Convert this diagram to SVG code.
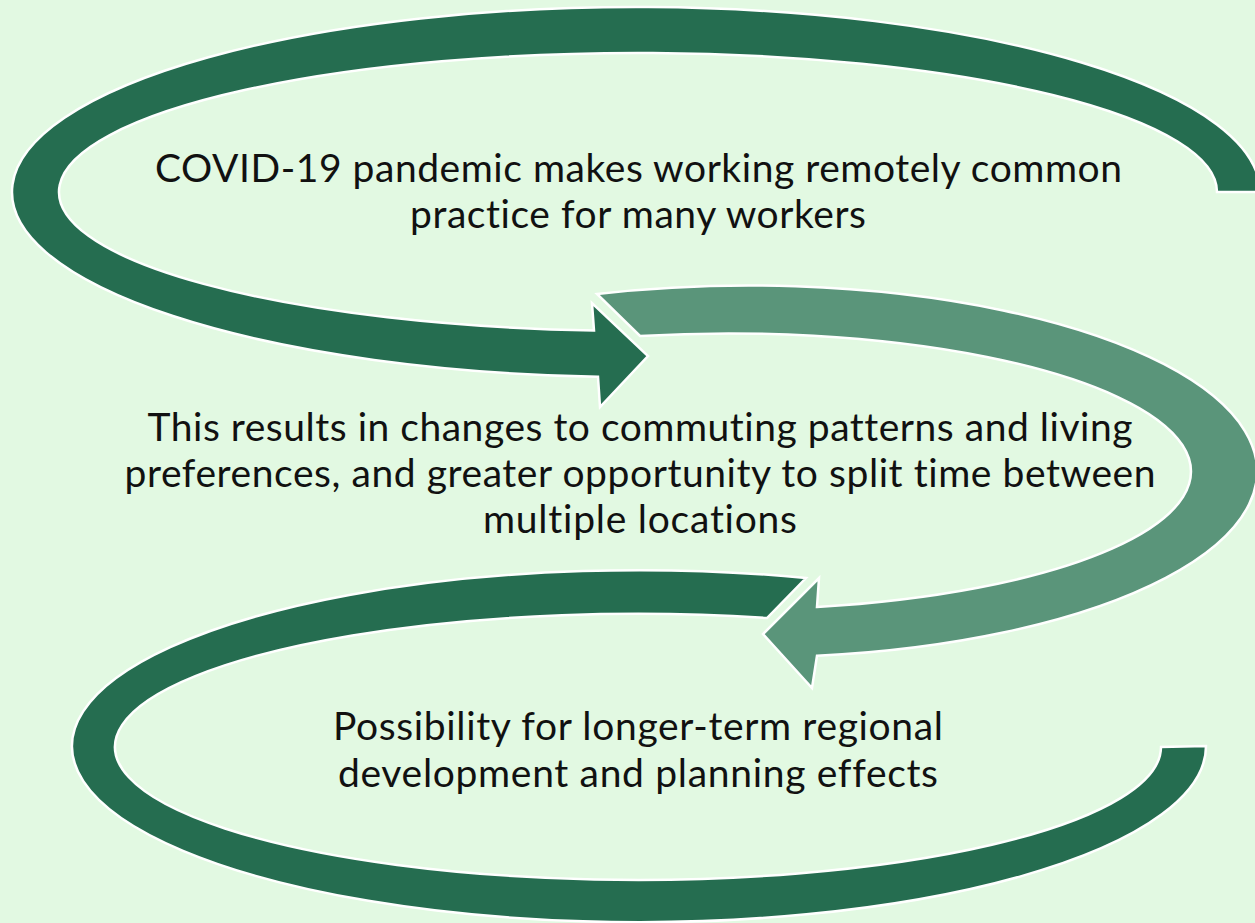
<svg xmlns="http://www.w3.org/2000/svg" width="1255" height="923" viewBox="0 0 1255 923">
<style>
.bg{fill:#e2f9e2}
.dark{fill:#256d50;stroke:#ffffff;stroke-width:2.5;stroke-linejoin:miter}
.light{fill:#5a957a;stroke:#ffffff;stroke-width:2.5;stroke-linejoin:miter}
.t{font-family:Lato,"Open Sans","Liberation Sans",sans-serif;font-size:39px;fill:#111111;text-anchor:middle;font-variant-ligatures:none}
</style>
<rect class="bg" x="0" y="0" width="1255" height="923"/>
<g id="connectors">
<path id="arrow-1" class="dark" d="M 1260 192 A 624 185 0 1 0 598 376.7 L 600 407 L 648 356 L 592 303 L 594 330.6 A 579 139 0 1 1 1217 192 Z"/>
<path id="arrow-3" class="dark" d="M 806 578 A 567 176 0 1 0 1206 746 L 1161 747 A 523 133 0 1 1 767 618 Z"/>
<path id="arrow-2" class="light" d="M 597 294 A 508 186 0 1 1 817 655.8 L 812 688 L 763 634 L 819 578 L 817 607 A 462 138 0 1 0 640 336 Z"/>
</g>
<g id="node-1">
<text class="t" x="638.5" y="182" textLength="967" lengthAdjust="spacing">COVID-19 pandemic makes working remotely common</text>
<text class="t" x="638" y="228" textLength="456" lengthAdjust="spacing">practice for many workers</text>
</g>
<g id="node-2">
<text class="t" x="640" y="441" textLength="985" lengthAdjust="spacing">This results in changes to commuting patterns and living</text>
<text class="t" x="640" y="487" textLength="1031" lengthAdjust="spacing">preferences, and greater opportunity to split time between</text>
<text class="t" x="640" y="533" textLength="314" lengthAdjust="spacing">multiple locations</text>
</g>
<g id="node-3">
<text class="t" x="638" y="740" textLength="610" lengthAdjust="spacing">Possibility for longer-term regional</text>
<text class="t" x="638" y="787" textLength="600" lengthAdjust="spacing">development and planning effects</text>
</g>
</svg>
